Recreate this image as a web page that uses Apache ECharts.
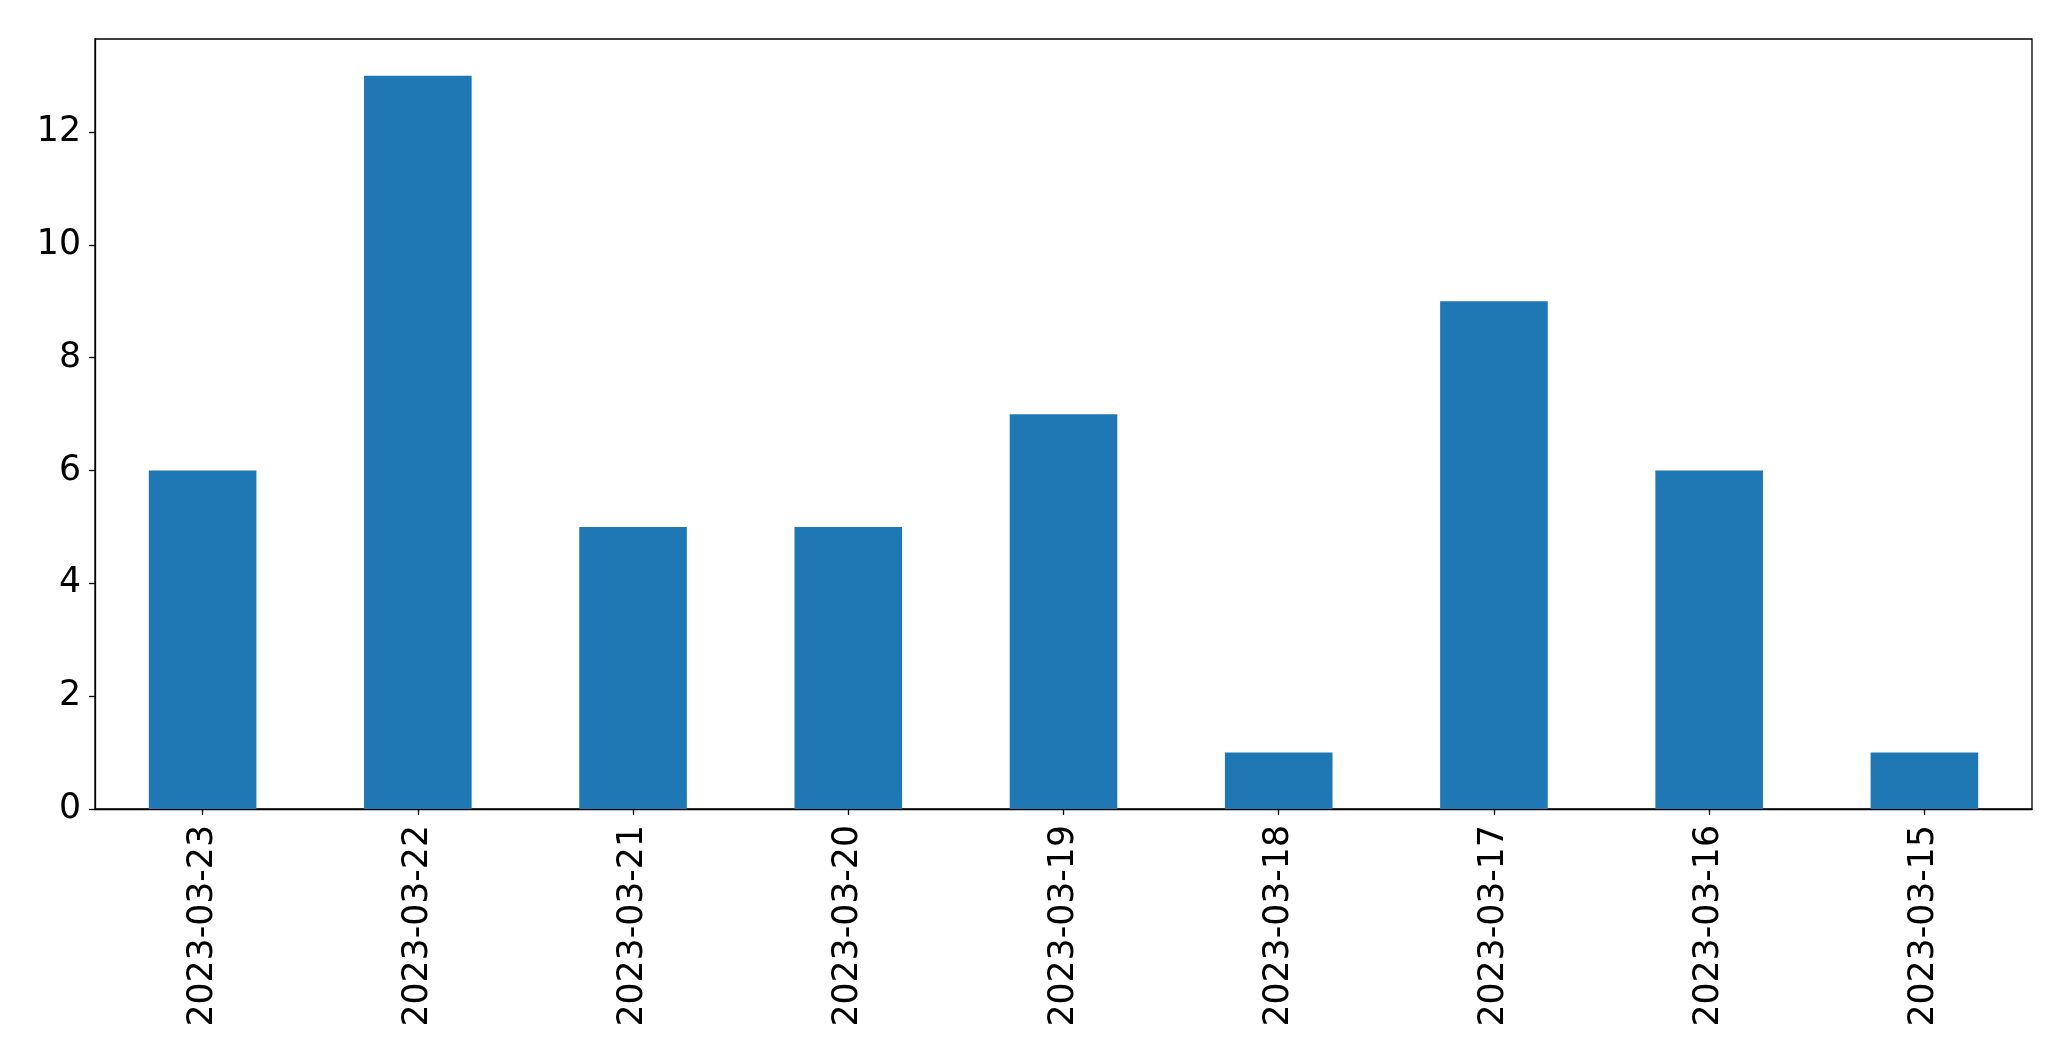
<!DOCTYPE html>
<html>
<head>
<meta charset="utf-8">
<script src="https://cdn.jsdelivr.net/npm/echarts@6/dist/echarts.min.js"></script>
<style>html,body{margin:0;padding:0;background:#fff;}#chart{width:2071px;height:1061px;}</style>
</head>
<body>
<div id="chart"></div>
<script>
const categories = ['2023-03-23','2023-03-22','2023-03-21','2023-03-20','2023-03-19','2023-03-18','2023-03-17','2023-03-16','2023-03-15'];
const values = [6, 13, 5, 5, 7, 1, 9, 6, 1];
const yMax = 13.65;
const yInterval = 2;

const chart = echarts.init(document.getElementById('chart'), null, {renderer: 'canvas'});
const font = 'DejaVu Sans';
chart.setOption({
  animation: false,
  backgroundColor: '#fff',
  grid: {left: 95, right: 39, top: 39, bottom: 252, show: true, borderColor: '#000', borderWidth: 1.3, backgroundColor: 'transparent'},
  xAxis: {
    type: 'category',
    data: categories,
    boundaryGap: true,
    axisLine: {show: true, lineStyle: {color: '#000', width: 1.3}},
    axisTick: {show: true, alignWithLabel: true, length: 6, lineStyle: {color: '#000', width: 1.3}},
    axisLabel: {rotate: 90, margin: 16, fontSize: 34.7, fontFamily: font, color: '#000', interval: 0},
    splitLine: {show: false}
  },
  yAxis: {
    type: 'value',
    min: 0,
    max: yMax,
    interval: yInterval,
    axisLine: {show: true, lineStyle: {color: '#000', width: 1.3}},
    axisTick: {show: true, length: 6, lineStyle: {color: '#000', width: 1.3}},
    axisLabel: {margin: 14, fontSize: 34.7, fontFamily: font, color: '#000', showMaxLabel: false,
      formatter: v => (Number.isInteger(v) ? String(v) : '')},
    splitLine: {show: false}
  },
  series: [{
    type: 'bar',
    data: values,
    barWidth: '50%',
    itemStyle: {color: '#1f77b4'}
  }]
});
</script>
</body>
</html>
